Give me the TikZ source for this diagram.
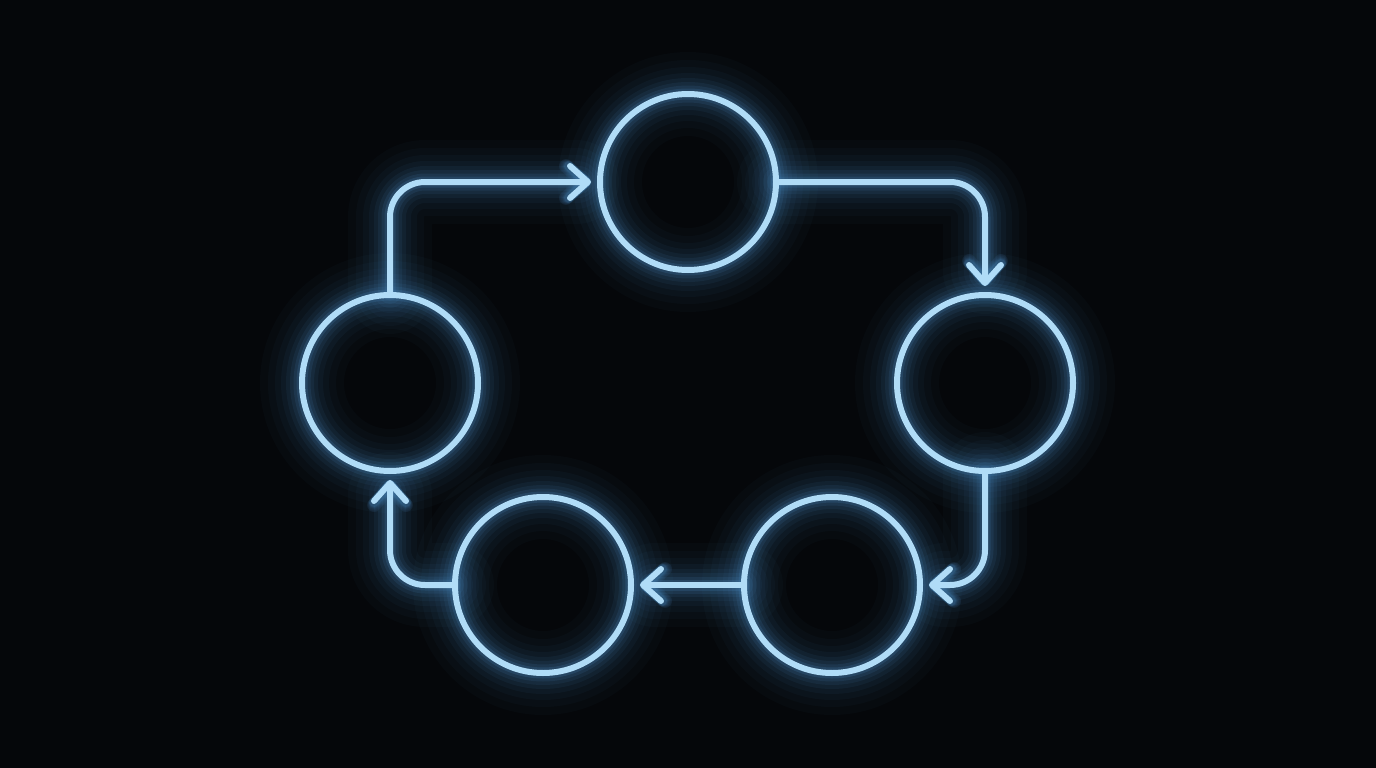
\documentclass[tikz,border=0pt]{standalone}
\usetikzlibrary{arrows.meta}
\definecolor{bg}{HTML}{05070A}
\definecolor{neon}{HTML}{B0DCF7}
\definecolor{glow}{HTML}{4A8CC4}
\def\tipw{6pt}
\tikzset{
  conn/.style={-{Straight Barb[length=18pt,width=32pt,round,line width=\tipw]}, shorten >=6pt, rounded corners=35pt},
  hub/.style={circle, minimum size=182pt, inner sep=0pt, outer sep=0pt}
}
\newcommand\allshapes{%
  \foreach \n in {t,r,br,bl,l} {\draw (\n.center) circle[radius=88pt];}
  \draw[conn] (l.north) |- (t.west);
  \draw[conn] (t.east) -| (r.north);
  \draw[conn] (r.south) |- (br.east);
  \draw[conn] (br.west) -- (bl.east);
  \draw[conn] (bl.west) -| (l.south);
}
\begin{document}
\begin{tikzpicture}[x=1pt,y=-1pt,line cap=round,line join=round]
\useasboundingbox (0,0) rectangle (1376,768);
\fill[bg] (0,0) rectangle (1376,768);
\node[hub] (t) at (688,182) {};
\node[hub] (r) at (985,383) {};
\node[hub] (br) at (832,585) {};
\node[hub] (bl) at (543,585) {};
\node[hub] (l) at (390,383) {};
\foreach \w/\o/\tw in {84/0.03/14, 68/0.035/14, 54/0.045/14, 42/0.055/13, 32/0.07/12, 24/0.09/11, 17/0.12/10, 11/0.18/9} {
  \def\tipw{\tw pt}
  \begin{scope}[line width=\w pt, draw=glow, opacity=\o]
    \allshapes
  \end{scope}
}
\def\tipw{6pt}
\begin{scope}[line width=6pt, draw=neon]
  \allshapes
\end{scope}
\end{tikzpicture}
\end{document}
